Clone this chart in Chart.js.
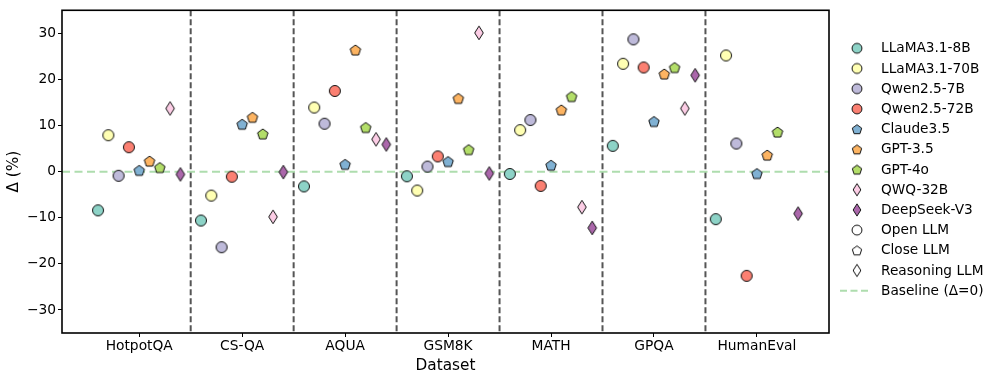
<!DOCTYPE html>
<html>
<head>
<meta charset="utf-8">
<script src="https://cdn.jsdelivr.net/npm/chart.js@4"></script>
<style>
html,body{margin:0;padding:0;background:#fff;}
#wrap{width:996px;height:380px;position:relative;}
</style>
</head>
<body>
<div id="wrap"><canvas id="c" width="996" height="380"></canvas></div>
<script>
const categories = ['HotpotQA','CS-QA','AQUA','GSM8K','MATH','GPQA','HumanEval'];
const modelNames = ['LLaMA3.1-8B','LLaMA3.1-70B','Qwen2.5-7B','Qwen2.5-72B','Claude3.5','GPT-3.5','GPT-4o','QWQ-32B','DeepSeek-V3'];
const modelTypes = ['open','open','open','open','close','close','close','reason','reason'];
const llama8b  = [-8.4, -10.6, -3.2, -1.0, -0.5,  5.6, -10.3];
const llama70b = [ 7.9,  -5.2, 13.9, -4.1,  9.0, 23.4,  25.2];
const qwen7b   = [-0.9, -16.4, 10.4,  1.1, 11.2, 28.7,   6.1];
const qwen72b  = [ 5.3,  -1.1, 17.5,  3.3, -3.1, 22.6, -22.6];
const claude35 = [ 0.3,  10.3,  1.6,  2.2,  1.4, 10.9,  -0.4];
const gpt35    = [ 2.3,  11.8, 26.4, 15.9, 13.4, 21.2,   3.6];
const gpt4o    = [ 0.9,   8.2,  9.6,  4.8, 16.3, 22.6,   8.6];
const qwq32b   = [13.7,  -9.8,  7.0, 30.1, -7.7, 13.7,  null];
const deepseek = [-0.6,  -0.1,  5.9, -0.4,-12.2, 20.9,  -9.1];
const seriesValues = [llama8b, llama70b, qwen7b, qwen72b, claude35, gpt35, gpt4o, qwq32b, deepseek];
const yTicks = [-30, -20, -10, 0, 10, 20, 30];
const legendExtra = ['Open LLM', 'Close LLM', 'Reasoning LLM', 'Baseline (Δ=0)'];

const colors = ['#8dd3c7','#ffffb3','#bebada','#fb8072','#80b1d3','#fdb462','#b3de69','#fccde5','#ab67ab'];
const FONT = "'DejaVu Sans', sans-serif";

function makeMarker(type, fill, scale) {
  scale = scale || 1;
  const w = type === 'reason' ? 12 : 14;
  const h = type === 'reason' ? 16 : 14;
  const cv = document.createElement('canvas');
  cv.width = w; cv.height = h;
  const ctx = cv.getContext('2d');
  const cx = w / 2, cy = h / 2;
  ctx.beginPath();
  if (type === 'open') {
    ctx.arc(cx, cy, 5.5 * scale, 0, Math.PI * 2);
  } else if (type === 'close') {
    const r = 5.5 * scale;
    for (let i = 0; i < 5; i++) {
      const a = -Math.PI / 2 + i * 2 * Math.PI / 5;
      const px = cx + r * Math.cos(a), py = cy + 0.6 + r * Math.sin(a);
      if (i === 0) ctx.moveTo(px, py); else ctx.lineTo(px, py);
    }
    ctx.closePath();
  } else {
    const hw = 4.3 * scale, hh = 6.8 * scale;
    ctx.moveTo(cx, cy - hh); ctx.lineTo(cx + hw, cy); ctx.lineTo(cx, cy + hh); ctx.lineTo(cx - hw, cy);
    ctx.closePath();
  }
  ctx.fillStyle = fill; ctx.fill();
  ctx.lineWidth = 1; ctx.strokeStyle = '#111'; ctx.stroke();
  return cv;
}

const X_MIN = -0.75, X_MAX = 6.7;
const datasets = [];
datasets.push({
  type: 'line',
  label: 'Baseline',
  data: [{x: X_MIN, y: 0}, {x: X_MAX, y: 0}],
  borderColor: 'rgba(160,215,160,0.85)',
  borderWidth: 2,
  borderDash: [8, 4.5],
  pointRadius: 0,
  order: 20
});
seriesValues.forEach((vals, m) => {
  const off = (m - 4) * 0.1;
  datasets.push({
    type: 'scatter',
    label: modelNames[m],
    data: vals.map((v, i) => v === null ? null : {x: i + off, y: v}).filter(p => p),
    pointStyle: makeMarker(modelTypes[m], colors[m]),
    order: 10 - m
  });
});

const extrasPlugin = {
  id: 'extras',
  beforeDatasetsDraw(chart) {
    const {ctx, chartArea, scales} = chart;
    ctx.save();
    ctx.strokeStyle = '#555555';
    ctx.lineWidth = 2;
    ctx.setLineDash([6, 3]);
    for (let i = 0; i < categories.length - 1; i++) {
      const x = scales.x.getPixelForValue(i + 0.5);
      ctx.beginPath();
      ctx.moveTo(x, chartArea.top);
      ctx.lineTo(x, chartArea.bottom);
      ctx.stroke();
    }
    ctx.restore();
  },
  afterDraw(chart) {
    const {ctx, chartArea} = chart;
    ctx.save();
    ctx.strokeStyle = '#000';
    ctx.lineWidth = 1.6;
    ctx.strokeRect(chartArea.left, chartArea.top, chartArea.right - chartArea.left, chartArea.bottom - chartArea.top);
    // legend
    const mx = 857, tx = 881, y0 = 48.3, dy = 20.2;
    ctx.font = '13.7px ' + FONT;
    ctx.fillStyle = '#000';
    ctx.textBaseline = 'middle';
    ctx.textAlign = 'left';
    const items = [];
    modelNames.forEach((n, m) => items.push({text: n, img: makeMarker(modelTypes[m], colors[m], 0.9)}));
    items.push({text: legendExtra[0], img: makeMarker('open', '#ffffff', 0.9)});
    items.push({text: legendExtra[1], img: makeMarker('close', '#ffffff', 0.9)});
    items.push({text: legendExtra[2], img: makeMarker('reason', '#ffffff', 0.9)});
    items.push({text: legendExtra[3], line: true});
    items.forEach((it, k) => {
      const y = y0 + k * dy;
      if (it.line) {
        ctx.save();
        ctx.strokeStyle = 'rgba(160,215,160,0.85)';
        ctx.lineWidth = 2;
        ctx.setLineDash([7, 3.5]);
        ctx.beginPath();
        ctx.moveTo(840, y); ctx.lineTo(870, y);
        ctx.stroke();
        ctx.restore();
      } else {
        ctx.drawImage(it.img, mx - it.img.width / 2, y - it.img.height / 2);
      }
      ctx.fillText(it.text, tx, y + 0.5);
    });
    ctx.restore();
  }
};

new Chart(document.getElementById('c'), {
  data: {datasets},
  options: {
    responsive: false,
    animation: false,
    layout: {padding: {top: 7, right: 167, left: 0, bottom: 0}},
    plugins: {legend: {display: false}, tooltip: {enabled: false}},
    scales: {
      x: {
        type: 'linear',
        min: X_MIN, max: X_MAX,
        afterBuildTicks: (s) => { s.ticks = categories.map((c, i) => ({value: i})); },
        afterFit: (s) => { s.height = 47; },
        ticks: {
          callback: (v) => categories[v],
          font: {family: FONT, size: 13.8}, color: '#000', padding: 1, maxRotation: 0, autoSkip: false
        },
        grid: {drawOnChartArea: false, drawTicks: true, tickLength: 4, color: '#000', tickWidth: 1},
        border: {display: false},
        title: {display: true, text: 'Dataset', font: {family: FONT, size: 15.3}, color: '#000', padding: {top: 0, bottom: 4.8}}
      },
      y: {
        type: 'linear',
        min: -35, max: 35,
        afterBuildTicks: (s) => { s.ticks = yTicks.map(v => ({value: v})); },
        afterFit: (s) => { s.width = 62; },
        ticks: {
          callback: (v) => (v < 0 ? '\u2212' + Math.abs(v) : String(v)),
          font: {family: FONT, size: 13.8}, color: '#000', padding: 2
        },
        grid: {drawOnChartArea: false, drawTicks: true, tickLength: 4, color: '#000', tickWidth: 1},
        border: {display: false},
        title: {display: true, text: 'Δ (%)', font: {family: FONT, size: 15.3}, color: '#000', padding: {top: 4.8, bottom: 0}}
      }
    }
  },
  plugins: [extrasPlugin]
});
</script>
</body>
</html>
